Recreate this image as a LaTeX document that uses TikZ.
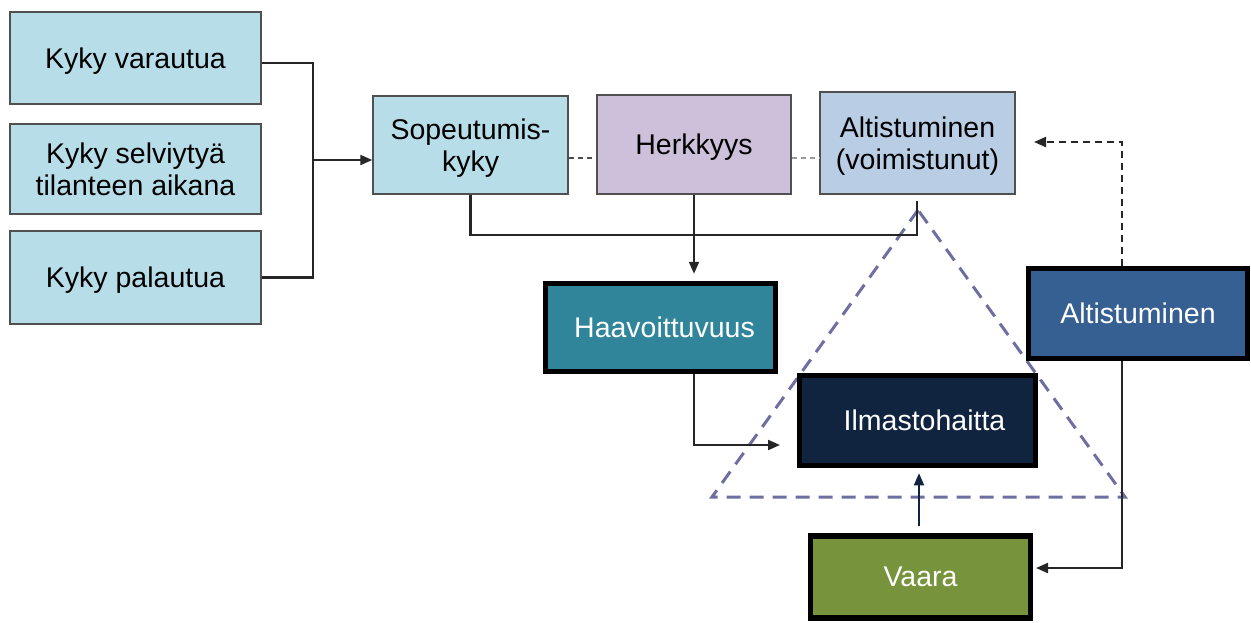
\documentclass[tikz,border=0pt]{standalone}
\usepackage{fontspec}
\setmainfont{Liberation Sans}
\usetikzlibrary{arrows.meta,calc}
\definecolor{lblue}{RGB}{183,222,232}
\definecolor{lpurple}{RGB}{204,192,218}
\definecolor{lsteel}{RGB}{185,205,229}
\definecolor{teal}{RGB}{49,133,155}
\definecolor{navy}{RGB}{17,36,63}
\definecolor{steel}{RGB}{54,96,146}
\definecolor{olive}{RGB}{119,147,60}
\definecolor{tri}{RGB}{110,110,160}
\definecolor{edge}{RGB}{80,80,80}
\tikzset{
  lightbox/.style={draw=edge, line width=1.5pt, align=center, inner sep=0pt,
    text depth=0pt, font=\fontsize{28.5}{32}\selectfont},
  darkbox/.style={draw=black, line width=5.5pt, align=center, inner sep=0pt,
    text=white, font=\fontsize{28.5}{32}\selectfont},
  conn/.style={line width=2.1pt, draw=black!85},
  arr/.style={conn, -{Triangle[length=12pt,width=10pt]}},
}
\begin{document}
\begin{tikzpicture}[x=1pt,y=-1pt]
\useasboundingbox (0,0) rectangle (1251,622);
% dashed triangle
\draw[tri, line width=3pt, dash pattern=on 14pt off 9pt] (918,210) -- (712,497) -- (1125,497) -- cycle;
% left boxes
\node[lightbox, fill=lblue, minimum width=251pt, minimum height=92pt] (k1) at (135.5,58) {Kyky varautua};
\node[lightbox, fill=lblue, minimum width=251pt, minimum height=90pt] (k2) at (135.5,169) {Kyky selviytyä\\tilanteen aikana};
\node[lightbox, fill=lblue, minimum width=251pt, minimum height=93pt] (k3) at (135.5,277.5) {Kyky palautua};
% top row
\node[lightbox, fill=lblue, minimum width=195pt, minimum height=98pt] (sop) at (470.5,145) {Sopeutumis-\\kyky};
\node[lightbox, fill=lpurple, minimum width=194pt, minimum height=99pt] (herk) at (694,144.5) {Herkkyys};
\node[lightbox, fill=lsteel, minimum width=195pt, minimum height=102pt] (altv) at (917.5,143) {Altistuminen\\(voimistunut)};
% dark boxes
\node[darkbox, fill=teal, minimum width=230pt, minimum height=88pt] (haav) at (660.5,327.5) {\hspace*{8pt}Haavoittuvuus};
\node[darkbox, fill=navy, minimum width=236pt, minimum height=90pt] (ilma) at (917.5,420.5) {\hspace*{14pt}Ilmastohaitta};
\node[darkbox, fill=steel, minimum width=219pt, minimum height=90pt] (alt) at (1138,313.5) {Altistuminen};
\node[darkbox, fill=olive, minimum width=220pt, minimum height=82pt] (vaara) at (920.5,577) {Vaara};
% coordinates
\coordinate (j) at (313,160);
\coordinate (hl) at (917,235);
\coordinate (altbot) at (917,201);
\coordinate (hi) at (780,445);
\coordinate (va) at (1036,568);
\coordinate (ad) at (1034,142);
% left connectors
\draw[conn] ([yshift=-5pt]k1.east) -| (j);
\draw[conn] (k3.east) -| (j);
\draw[arr] (j) -- (sop.west |- j);
% dashed links in top row
\draw[black!70, line width=1.5pt, dash pattern=on 5pt off 4pt] (sop.east |- 0,158) -- (herk.west |- 0,158);
\draw[black!40, line width=1.5pt, dash pattern=on 5pt off 4pt] (herk.east |- 0,158) -- (altv.west |- 0,158);
% sopeutumiskyky to altistuminen (voimistunut)
\draw[conn] (sop.south) |- (hl) -- (altbot);
% herkkyys to haavoittuvuus
\draw[arr, shorten >=7pt] (herk.south) -- (herk.south |- haav.north);
% haavoittuvuus to ilmastohaitta
\draw[arr] (haav.south -| herk.south) |- (hi);
% vaara to ilmastohaitta
\draw[navy, line width=1.7pt, -{Triangle[length=12pt,width=10pt]}, shorten <=7pt, shorten >=5pt] (vaara.north -| 919,0) -- (ilma.south -| 919,0);
% altistuminen to vaara
\draw[arr] ([xshift=-16pt]alt.south) |- (va);
% altistuminen dashed to altistuminen (voimistunut)
\draw[arr, dash pattern=on 7pt off 5pt] ([xshift=-16pt]alt.north) |- (ad);
\end{tikzpicture}
\end{document}
